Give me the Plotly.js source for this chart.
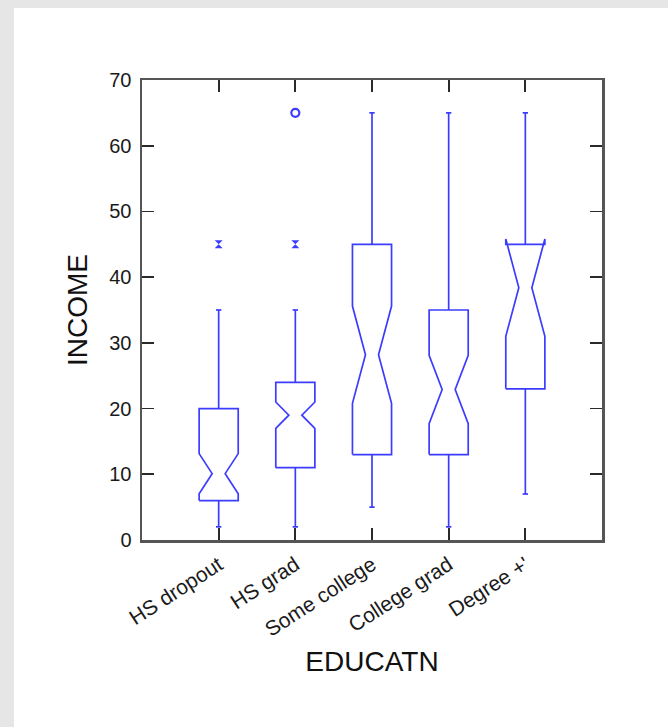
<!DOCTYPE html>
<html>
<head>
<meta charset="utf-8">
<script src="https://cdn.plot.ly/plotly-3.0.1.min.js"></script>
<style>
  html, body { margin: 0; padding: 0; background: #e6e6e6; width: 668px; height: 727px; overflow: hidden; }
  #chart { position: absolute; left: 14px; top: 8px; width: 654px; height: 719px; background: #ffffff; }
</style>
</head>
<body>
<div id="chart"></div>
<script>
// Data
const categories = ["HS dropout", "HS grad", "Some college", "College grad", "Degree +'"];
const lowerWhisker = [2, 2, 5, 2, 7];
const q1Values     = [6, 11, 13, 13, 23];
const medianValues = [10.1, 19, 28.2, 22.9, 38.4];
const q3Values     = [20, 24, 45, 35, 45];
const upperWhisker = [35, 35, 65, 65, 65];
const notchHalf    = [3.05, 2.0, 7.4, 5.2, 7.4];
// outside values (asterisks) and far outside values (circles)
const starCats   = ["HS dropout", "HS grad"];
const starValues = [45, 45];
const circleCats   = ["HS grad"];
const circleValues = [65];

// drawing style (category-axis units)
const boxHalf = 0.255;    // half box width
const waistHalf = 0.085;  // half width at the notch waist
const capHalf = 0.035;    // whisker cap half width
const blue = "#3c3cff";
const fontFam = "Liberation Sans, Arial, sans-serif";

// build notched box outlines from the data arrays
const outX = [], outY = [];
const whX = [], whY = [];
categories.forEach((c, i) => {
  const q1 = q1Values[i], q3 = q3Values[i], md = medianValues[i];
  const lo = md - notchHalf[i], hi = md + notchHalf[i];
  const L = i - boxHalf, R = i + boxHalf, wl = i - waistHalf, wr = i + waistHalf;
  outX.push(L, L, wl, L, L, R, R, wr, R, R, L, null);
  outY.push(q1, lo, md, hi, q3, q3, hi, md, lo, q1, q1, null);
  // whiskers
  whX.push(i, i, null, i, i, null);
  whY.push(q3, upperWhisker[i], null, q1, lowerWhisker[i], null);
  // caps
  whX.push(i - capHalf, i + capHalf, null, i - capHalf, i + capHalf, null);
  whY.push(upperWhisker[i], upperWhisker[i], null, lowerWhisker[i], lowerWhisker[i], null);
});

const boxTrace = {
  type: "scatter", mode: "lines", x: outX, y: outY,
  line: { color: blue, width: 1.7 }, connectgaps: false,
  showlegend: false, hoverinfo: "skip"
};
const whiskerTrace = {
  type: "scatter", mode: "lines", x: whX, y: whY,
  line: { color: blue, width: 1.7 }, connectgaps: false,
  showlegend: false, hoverinfo: "skip"
};
const starTrace = {
  type: "scatter", mode: "markers",
  x: starCats.map(c => categories.indexOf(c)), y: starValues,
  marker: { symbol: "hourglass", size: 8, color: blue, line: { width: 0 } },
  showlegend: false, hoverinfo: "skip"
};
const circleTrace = {
  type: "scatter", mode: "markers",
  x: circleCats.map(c => categories.indexOf(c)), y: circleValues,
  marker: { symbol: "circle-open", size: 8, color: blue, line: { width: 2.2, color: blue } },
  showlegend: false, hoverinfo: "skip"
};

const layout = {
  width: 654, height: 719,
  paper_bgcolor: "#ffffff", plot_bgcolor: "#ffffff",
  margin: { l: 128, r: 66, t: 72, b: 187 },
  font: { family: fontFam, size: 16, color: "#1a1a1a" },
  xaxis: {
    range: [-1, 5],
    tickmode: "array",
    tickvals: categories.map((c, i) => i),
    ticktext: categories,
    showline: true, linecolor: "#555", linewidth: 2.5, mirror: "allticks",
    ticks: "inside", ticklen: 12, tickwidth: 1.8, tickcolor: "#2a2a2a",
    tickangle: -33,
    ticklabelstandoff: 2,
    tickfont: { family: fontFam, size: 21, color: "#1a1a1a" },
    showgrid: false, zeroline: false,
    title: { text: "EDUCATN", font: { family: fontFam, size: 28, color: "#111" }, standoff: 12 }
  },
  yaxis: {
    range: [0, 70],
    dtick: 10,
    showline: true, linecolor: "#555", linewidth: 2.5, mirror: "allticks",
    ticks: "inside", ticklen: 12, tickwidth: 1.8, tickcolor: "#2a2a2a",
    ticklabelstandoff: 4,
    tickfont: { family: fontFam, size: 20, color: "#1a1a1a" },
    showgrid: false, zeroline: false,
    title: { text: "INCOME", font: { family: fontFam, size: 28, color: "#111" }, standoff: 14 }
  }
};

Plotly.newPlot("chart", [boxTrace, whiskerTrace, starTrace, circleTrace], layout, { staticPlot: true, displayModeBar: false });
</script>
</body>
</html>
